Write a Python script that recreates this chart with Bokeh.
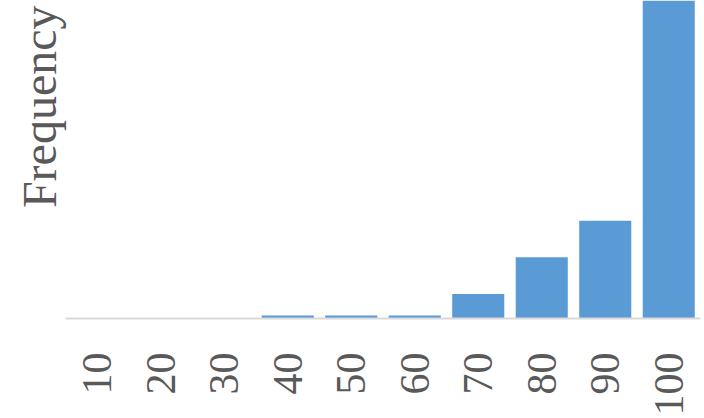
import math
from bokeh.plotting import figure
from bokeh.models import ColumnDataSource, FactorRange, Range1d, Title
from bokeh.embed import file_html
from bokeh.resources import INLINE

# Histogram bins (upper edge of each score band) and their counts
bins = ["10", "20", "30", "40", "50", "60", "70", "80", "90", "100"]
counts = [0, 0, 0, 1, 1, 1, 8, 20, 32, 160]

FONT = "Liberation Serif"
TEXT = "#595959"
BAR = "#5B9BD5"

source = ColumnDataSource(data=dict(bins=bins, counts=counts))

p = figure(
    width=704, height=418,
    x_range=FactorRange(*bins, range_padding=0),
    y_range=Range1d(0, 104),
    output_backend="svg", toolbar_location=None,
    min_border_left=65, min_border_right=4,
    min_border_top=0, min_border_bottom=100,
)

p.vbar(x="bins", top="counts", width=0.82, source=source,
       fill_color=BAR, line_color=None)

p.outline_line_color = None
p.xgrid.grid_line_color = None
p.ygrid.grid_line_color = None
p.background_fill_color = "white"
p.border_fill_color = "white"

# Category axis: light rule, rotated serif labels
p.xaxis.axis_line_color = "#D9D9D9"
p.xaxis.axis_line_width = 2
p.xaxis.major_tick_line_color = None
p.xaxis.minor_tick_line_color = None
p.xaxis.major_label_orientation = math.pi / 2
p.xaxis.major_label_text_font = FONT
p.xaxis.major_label_text_font_size = "42px"
p.xaxis.major_label_text_color = TEXT
p.xaxis.major_label_standoff = 28

# Value axis carries no ticks; its title sits in the left margin near the top
p.yaxis.visible = False
p.add_layout(Title(
    text="Frequency", align="right", offset=5,
    text_font=FONT, text_font_size="48px", text_font_style="normal",
    text_color=TEXT, standoff=0,
), "left")

open("out.html", "w").write(file_html(p, INLINE))
